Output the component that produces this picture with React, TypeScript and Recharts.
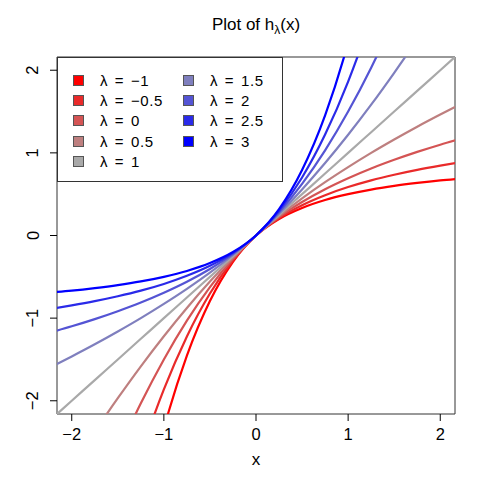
import { LineChart, Line, XAxis, YAxis, ReferenceArea } from "recharts";

// x grid the curves were read at
const xs = [-2.25, -2, -1.75, -1.5, -1.25, -1, -0.75, -0.5, -0.25, 0, 0.25, 0.5, 0.75, 1, 1.25, 1.5, 1.75, 2, 2.25];

const lambdas = ["-1", "-0.5", "0", "0.5", "1", "1.5", "2", "2.5", "3"];
const colors = ["#FF0000", "#E92A2A", "#D45454", "#BE7F7F", "#A9A9A9", "#7F7FBE", "#5454D4", "#2A2AE9", "#0000FF"];

const hM1 = [-11.11, -8.667, -6.599, -4.875, -3.464, -2.333, -1.453, -0.792, -0.318, 0, 0.2, 0.333, 0.429, 0.5, 0.556, 0.6, 0.636, 0.667, 0.692];
const hM05 = [-7.217, -5.835, -4.616, -3.553, -2.638, -1.863, -1.221, -0.702, -0.299, 0, 0.211, 0.367, 0.488, 0.586, 0.667, 0.735, 0.794, 0.845, 0.891];
const h0 = [-4.781, -4, -3.281, -2.625, -2.031, -1.5, -1.031, -0.625, -0.281, 0, 0.223, 0.405, 0.56, 0.693, 0.811, 0.916, 1.012, 1.099, 1.179];
const h05 = [-3.239, -2.797, -2.374, -1.969, -1.583, -1.219, -0.877, -0.558, -0.265, 0, 0.236, 0.45, 0.646, 0.828, 1, 1.162, 1.317, 1.464, 1.606];
const h1 = [-2.25, -2, -1.75, -1.5, -1.25, -1, -0.75, -0.5, -0.25, 0, 0.25, 0.5, 0.75, 1, 1.25, 1.5, 1.75, 2, 2.25];
const h15 = [-1.606, -1.464, -1.317, -1.162, -1, -0.828, -0.646, -0.45, -0.236, 0, 0.265, 0.558, 0.877, 1.219, 1.583, 1.969, 2.374, 2.797, 3.239];
const h2 = [-1.179, -1.099, -1.012, -0.916, -0.811, -0.693, -0.56, -0.405, -0.223, 0, 0.281, 0.625, 1.031, 1.5, 2.031, 2.625, 3.281, 4, 4.781];
const h25 = [-0.891, -0.845, -0.794, -0.735, -0.667, -0.586, -0.488, -0.367, -0.211, 0, 0.299, 0.702, 1.221, 1.863, 2.638, 3.553, 4.616, 5.835, 7.217];
const h3 = [-0.692, -0.667, -0.636, -0.6, -0.556, -0.5, -0.429, -0.333, -0.2, 0, 0.318, 0.792, 1.453, 2.333, 3.464, 4.875, 6.599, 8.667, 11.11];

const series = [hM1, hM05, h0, h05, h1, h15, h2, h25, h3];
const ticks = [-2, -1, 0, 1, 2];

const data = xs.map((x, i) => {
  const row: any = { x };
  series.forEach((s, k) => (row["l" + k] = s[i]));
  return row;
});

const font = "'Liberation Sans', Arial, sans-serif";
const lim = 2.16;

const lamLabel = (v: string) => "λ = " + v.replace("-", "−");

function YTick(props: any) {
  const { x, y, payload } = props;
  const tx = x - 9.5;
  return (
    <text x={tx} y={y} transform={`rotate(-90, ${tx}, ${y})`} textAnchor="middle" fontSize={16.5} fontFamily={font} fill="#000">
      {String(payload.value).replace("-", "−")}
    </text>
  );
}

function XTick(props: any) {
  const { x, y, payload } = props;
  return (
    <text x={x} y={y + 16.5} textAnchor="middle" fontSize={16.5} fontFamily={font} fill="#000">
      {String(payload.value).replace("-", "−")}
    </text>
  );
}

function LegendBox() {
  return (
    <div style={{ position: "absolute", left: 57, top: 57, width: 224, height: 123, border: "1px solid #333", background: "#fff", fontFamily: font, fontSize: 15 }}>
      {lambdas.map((l, i) => {
        const col = i < 5 ? 0 : 1;
        const r = col === 0 ? i : i - 5;
        return (
          <div key={l} style={{ position: "absolute", left: col === 0 ? 15 : 125, top: 11 + r * 20.4, height: 22, display: "flex", alignItems: "center", whiteSpace: "nowrap" }}>
            <span style={{ display: "inline-block", width: 9, height: 9, background: colors[i], border: "1px solid #555", marginRight: 16 }} />
            <span style={{ letterSpacing: 0.6, wordSpacing: 2 }}>{lamLabel(l)}</span>
          </div>
        );
      })}
    </div>
  );
}

export default function App() {
  return (
    <div style={{ position: "absolute", left: 0, top: 0, width: 485, height: 485, background: "#fff" }}>
      <div style={{ position: "absolute", left: 56, width: 400, top: 15, textAlign: "center", fontFamily: font, fontSize: 17 }}>
        Plot of h<sub style={{ fontSize: 12 }}>λ</sub>(x)
      </div>
      <div style={{ position: "absolute", left: 56, width: 400, top: 450, textAlign: "center", fontFamily: font, fontSize: 17 }}>x</div>
      <LineChart width={485} height={485} data={data} margin={{ top: 57, right: 30, left: 0, bottom: 0 }}>
        <XAxis
          dataKey="x"
          type="number"
          domain={[-lim, lim]}
          allowDataOverflow
          ticks={ticks}
          height={71}
          axisLine={false}
          tickSize={7}
          tickLine={{ stroke: "#000" }}
          tick={<XTick />}
        />
        <YAxis
          type="number"
          domain={[-lim, lim]}
          allowDataOverflow
          ticks={ticks}
          width={57}
          axisLine={false}
          tickSize={7}
          tickLine={{ stroke: "#000" }}
          tick={<YTick />}
        />
        {series.map((_, k) => (
          <Line
            key={k}
            dataKey={"l" + k}
            name={lamLabel(lambdas[k])}
            type="monotone"
            stroke={colors[k]}
            strokeWidth={2.2}
            dot={false}
            isAnimationActive={false}
          />
        ))}
        <ReferenceArea x1={-lim} x2={lim} y1={-lim} y2={lim} fill="none" stroke="#333" strokeWidth={1} ifOverflow="visible" />
      </LineChart>
      <LegendBox />
    </div>
  );
}
